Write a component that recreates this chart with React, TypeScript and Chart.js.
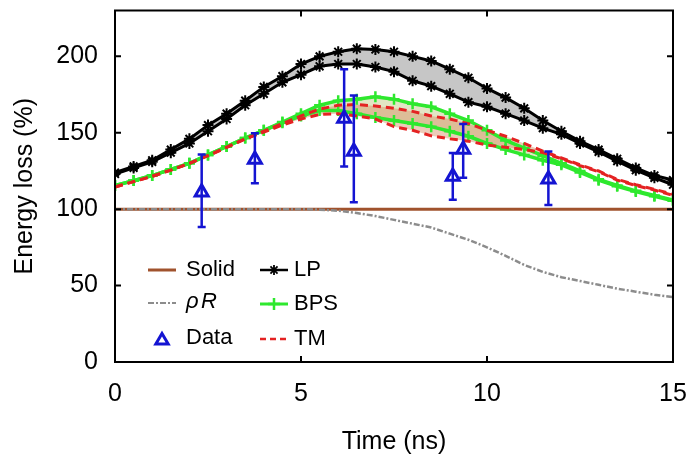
import React, { useEffect, useRef } from "react";
import { Chart, registerables } from "chart.js";

Chart.register(...registerables);

const times = [0, 0.5, 1, 1.5, 2, 2.5, 3, 3.5, 4, 4.5, 5, 5.5, 6, 6.5, 7, 7.5, 8, 8.5, 9, 9.5, 10, 10.5, 11, 11.5, 12, 12.5, 13, 13.5, 14, 14.5, 15];

const lpUpper = [124, 128, 132, 139, 146, 155, 162.5, 171, 180, 187, 195, 200, 203, 205, 204.5, 203, 200, 197, 191.6, 186, 179, 173, 166, 158, 151, 144.5, 139, 133, 127, 122, 119];
const lpLower = [123, 127, 131, 137, 143, 151, 159, 168, 175.5, 183, 188, 193.5, 195, 195, 193, 190, 184, 180.5, 175.5, 170, 167, 162.5, 158, 153, 149, 143, 137.5, 131.5, 125.5, 120.5, 116];

const bpsUpper = [115.5, 118.7, 122, 126, 130, 135.5, 141, 146.5, 151.6, 157, 162.5, 168, 171, 172, 173.5, 172, 169, 167, 162.5, 158, 151.6, 145, 140, 135, 130, 125, 119.5, 115.5, 112, 109, 106];
const bpsLower = [115.5, 118.7, 122, 126, 130, 135.5, 141, 146.5, 151.6, 156.5, 161, 164.5, 164.5, 162.5, 160, 158, 156, 154, 151, 147.7, 143, 139, 135.5, 132, 129, 124, 119, 115, 111.5, 108.5, 105.5];

const tmUpper = [114.5, 118, 121.5, 125.5, 130, 135, 140.5, 146, 151, 156, 161, 165.5, 168, 168.5, 167.5, 166, 164, 161, 159, 156, 151.6, 147.7, 143, 138, 133.5, 129, 125, 119.5, 116, 113, 109.7];
const tmLower = [114.5, 118, 121.5, 125.5, 130, 135, 140.5, 146, 150.5, 155, 159, 162, 162.5, 161, 159, 154, 151.6, 148, 146, 144.5, 142, 140.5, 139, 137, 133, 128.5, 124.5, 119, 115.5, 112.5, 109];

const rhoR = [100, 100, 100, 100, 100, 100, 100, 100, 100, 100, 100, 99.7, 99, 97.5, 95.5, 93, 90.5, 88, 84, 80, 75, 69.5, 63.5, 59, 55.5, 53, 50.5, 48, 46, 44, 42.5];

const solidTimes = [0, 15];
const solidValues = [100, 100];

const dataTimes = [2.33, 3.76, 6.16, 6.42, 9.08, 9.36, 11.65];
const dataValues = [111, 132.5, 159.4, 137.8, 121.3, 139, 119.5];
const dataHigh = [135.7, 149.7, 191.6, 174.4, 136.8, 155.7, 137.8];
const dataLow = [88.4, 117, 128, 104.5, 106.2, 120.6, 102.8];

const xTicks = [0, 5, 10, 15];
const yTicks = [0, 50, 100, 150, 200];

const C_SOLID = "#a0522d";
const C_RHO = "#8c8c8c";
const C_DATA = "#1414d2";
const C_LP = "#000000";
const C_BPS = "#2ee82e";
const C_TM = "#e42222";
const FONT = "'Liberation Sans', Arial, Helvetica, sans-serif";

const pts = (xs: number[], ys: number[]) => xs.map((x, i) => ({ x, y: ys[i] }));

function drawStar(ctx: CanvasRenderingContext2D, x: number, y: number, r: number) {
  ctx.beginPath();
  ctx.moveTo(x - r, y); ctx.lineTo(x + r, y);
  ctx.moveTo(x, y - r); ctx.lineTo(x, y + r);
  const d = r * 0.707;
  ctx.moveTo(x - d, y - d); ctx.lineTo(x + d, y + d);
  ctx.moveTo(x - d, y + d); ctx.lineTo(x + d, y - d);
  ctx.stroke();
}
function drawCross(ctx: CanvasRenderingContext2D, x: number, y: number, r: number) {
  ctx.beginPath();
  ctx.moveTo(x - r, y); ctx.lineTo(x + r, y);
  ctx.moveTo(x, y - r); ctx.lineTo(x, y + r);
  ctx.stroke();
}
function drawTri(ctx: CanvasRenderingContext2D, x: number, y: number, r: number) {
  ctx.beginPath();
  ctx.moveTo(x, y - r);
  ctx.lineTo(x + r * 0.95, y + r * 0.6);
  ctx.lineTo(x - r * 0.95, y + r * 0.6);
  ctx.closePath();
  ctx.stroke();
}

const framePlugin = {
  id: "frameAndExtras",
  afterDatasetsDraw(chart: any) {
    const ctx = chart.ctx as CanvasRenderingContext2D;
    const xs = chart.scales.x;
    const ys = chart.scales.y;
    ctx.save();
    ctx.strokeStyle = C_DATA;
    ctx.lineWidth = 2.5;
    dataTimes.forEach((t, i) => {
      const px = xs.getPixelForValue(t);
      const hi = ys.getPixelForValue(dataHigh[i]);
      const lo = ys.getPixelForValue(dataLow[i]);
      ctx.beginPath();
      ctx.moveTo(px, hi); ctx.lineTo(px, lo);
      ctx.moveTo(px - 4, hi); ctx.lineTo(px + 4, hi);
      ctx.moveTo(px - 4, lo); ctx.lineTo(px + 4, lo);
      ctx.stroke();
    });
    ctx.restore();
  },
  afterDraw(chart: any) {
    const ctx = chart.ctx as CanvasRenderingContext2D;
    const { left, right, top, bottom } = chart.chartArea;
    const xs = chart.scales.x;
    const ys = chart.scales.y;
    ctx.save();
    ctx.strokeStyle = "#000";
    ctx.lineWidth = 2;
    ctx.strokeRect(left, top, right - left, bottom - top);
    ctx.beginPath();
    xTicks.forEach((v) => {
      const px = xs.getPixelForValue(v);
      if (px <= left + 1 || px >= right - 1) return;
      ctx.moveTo(px, bottom); ctx.lineTo(px, bottom - 6);
      ctx.moveTo(px, top); ctx.lineTo(px, top + 6);
    });
    yTicks.forEach((v) => {
      const py = ys.getPixelForValue(v);
      if (py <= top + 1 || py >= bottom - 1) return;
      ctx.moveTo(left, py); ctx.lineTo(left + 6, py);
      ctx.moveTo(right, py); ctx.lineTo(right - 6, py);
    });
    ctx.stroke();

    // legend
    ctx.font = `22px ${FONT}`;
    ctx.textBaseline = "middle";
    ctx.textAlign = "left";
    ctx.fillStyle = "#000";
    ctx.strokeStyle = C_SOLID; ctx.lineWidth = 3;
    ctx.beginPath(); ctx.moveTo(148, 270); ctx.lineTo(176, 270); ctx.stroke();
    ctx.fillText("Solid", 186, 270);
    ctx.strokeStyle = C_RHO; ctx.lineWidth = 2;
    ctx.setLineDash([6, 2, 2, 2]);
    ctx.beginPath(); ctx.moveTo(148, 303); ctx.lineTo(176, 303); ctx.stroke();
    ctx.setLineDash([]);
    ctx.font = `italic 22px ${FONT}`;
    ctx.fillText("\u03c1", 186, 302);
    ctx.fillText("R", 201, 302);
    ctx.font = `22px ${FONT}`;
    ctx.strokeStyle = C_DATA; ctx.lineWidth = 3;
    drawTri(ctx, 162, 340, 6.5);
    ctx.fillText("Data", 186, 338);
    ctx.strokeStyle = C_LP; ctx.lineWidth = 2.5;
    ctx.beginPath(); ctx.moveTo(260, 270); ctx.lineTo(288, 270); ctx.stroke();
    ctx.lineWidth = 1.8;
    drawStar(ctx, 274, 270, 5);
    ctx.fillText("LP", 294, 270);
    ctx.strokeStyle = C_BPS; ctx.lineWidth = 3;
    ctx.beginPath(); ctx.moveTo(260, 304); ctx.lineTo(288, 304); ctx.stroke();
    ctx.lineWidth = 2.5;
    drawCross(ctx, 274, 304, 6);
    ctx.fillText("BPS", 294, 304);
    ctx.strokeStyle = C_TM; ctx.lineWidth = 2.5;
    ctx.setLineDash([6, 4]);
    ctx.beginPath(); ctx.moveTo(260, 339); ctx.lineTo(290, 339); ctx.stroke();
    ctx.setLineDash([]);
    ctx.fillText("TM", 294, 339);
    ctx.restore();
  },
};

export default function App() {
  const ref = useRef<HTMLCanvasElement | null>(null);
  useEffect(() => {
    document.body.style.margin = "0";
    const canvas = ref.current!;
    const chart = new Chart(canvas, {
      type: "line",
      data: {
        datasets: [
          {
            label: "Data",
            data: pts(dataTimes, dataValues),
            showLine: false,
            pointStyle: "triangle",
            pointRadius: 7.5,
            pointBorderWidth: 3,
            pointBorderColor: C_DATA,
            pointBackgroundColor: "rgba(255,255,255,0.5)",
            borderColor: C_DATA,
          },
          {
            label: "TM",
            data: pts(times, tmUpper),
            borderColor: C_TM,
            borderWidth: 3,
            borderDash: [8, 5],
            pointRadius: 0,
            fill: { target: 2 },
            backgroundColor: "rgba(215,140,100,0.45)",
          },
          {
            label: "TM low",
            data: pts(times, tmLower),
            borderColor: C_TM,
            borderWidth: 3,
            borderDash: [8, 5],
            pointRadius: 0,
            fill: false,
          },
          {
            label: "BPS",
            data: pts(times, bpsUpper),
            borderColor: C_BPS,
            borderWidth: 3.5,
            pointStyle: "cross",
            pointRadius: 5.5,
            pointBorderWidth: 2.5,
            pointBorderColor: C_BPS,
            fill: { target: 4 },
            backgroundColor: "rgba(160,170,60,0.3)",
          },
          {
            label: "BPS low",
            data: pts(times, bpsLower),
            borderColor: C_BPS,
            borderWidth: 3.5,
            pointStyle: "cross",
            pointRadius: 5.5,
            pointBorderWidth: 2.5,
            pointBorderColor: C_BPS,
            fill: false,
          },
          {
            label: "LP",
            data: pts(times, lpUpper),
            borderColor: C_LP,
            borderWidth: 3,
            pointStyle: "star",
            pointRadius: 5.5,
            pointBorderWidth: 2,
            pointBorderColor: C_LP,
            fill: { target: 6 },
            backgroundColor: "#c6c6c6",
          },
          {
            label: "LP low",
            data: pts(times, lpLower),
            borderColor: C_LP,
            borderWidth: 3,
            pointStyle: "star",
            pointRadius: 5.5,
            pointBorderWidth: 2,
            pointBorderColor: C_LP,
            fill: false,
          },
          {
            label: "rhoR",
            data: pts(times, rhoR),
            borderColor: C_RHO,
            borderWidth: 2.5,
            borderDash: [6, 2, 2, 2],
            pointRadius: 0,
            fill: false,
          },
          {
            label: "Solid",
            data: pts(solidTimes, solidValues),
            borderColor: C_SOLID,
            borderWidth: 3,
            pointRadius: 0,
            fill: false,
          },
        ],
      },
      options: {
        animation: false,
        responsive: false,
        devicePixelRatio: 1,
        layout: { padding: { top: 5, right: 15, left: 0, bottom: 0 } },
        plugins: {
          legend: { display: false },
          tooltip: { enabled: false },
          filler: { drawTime: "beforeDatasetsDraw" },
        },
        scales: {
          x: {
            type: "linear",
            min: 0,
            max: 15,
            grid: { display: false, drawTicks: false },
            border: { display: false },
            afterBuildTicks: (s: any) => { s.ticks = xTicks.map((v) => ({ value: v })); },
            afterFit: (s: any) => { s.height = 101; s.paddingLeft = 0; s.paddingRight = 0; },
            ticks: { color: "#000", padding: 17, font: { family: FONT, size: 25 }, maxRotation: 0 },
            title: { display: true, text: "Time (ns)", color: "#000", font: { family: FONT, size: 25 }, padding: { top: 0, bottom: 6 } },
          },
          y: {
            type: "linear",
            min: 0,
            max: 230,
            grid: { display: false, drawTicks: false },
            border: { display: false },
            afterBuildTicks: (s: any) => { s.ticks = yTicks.map((v) => ({ value: v })); },
            afterFit: (s: any) => { s.width = 115; s.paddingTop = 0; s.paddingBottom = 0; },
            ticks: { color: "#000", padding: 17, font: { family: FONT, size: 25 } },
            title: { display: true, text: "Energy loss (%)", color: "#000", font: { family: FONT, size: 25 }, padding: { top: 10, bottom: 0 } },
          },
        },
      },
      plugins: [framePlugin],
    } as any);
    return () => chart.destroy();
  }, []);
  return (
    <div style={{ width: 688, height: 463 }}>
      <canvas ref={ref} width={688} height={463} style={{ display: "block" }} />
    </div>
  );
}
